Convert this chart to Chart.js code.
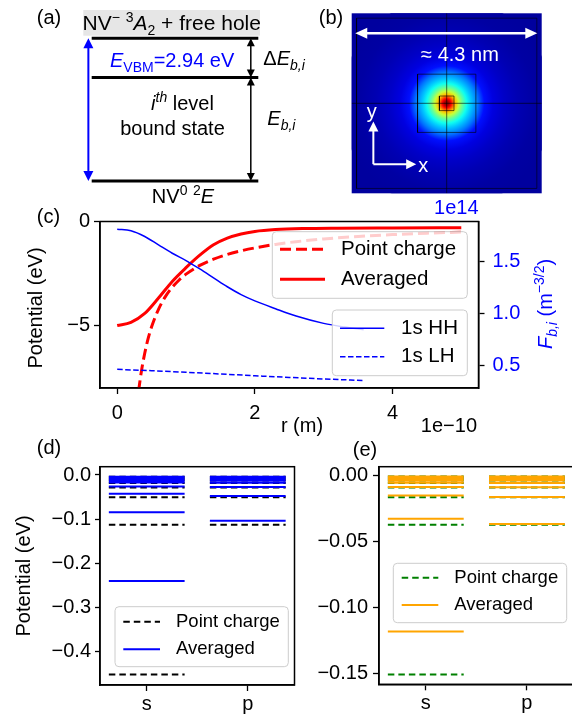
<!DOCTYPE html>
<html>
<head>
<meta charset="utf-8">
<title>NV bound hole states</title>
<script src="https://cdn.jsdelivr.net/npm/chart.js@4.4.1/dist/chart.umd.min.js"></script>
<style>
  html, body { margin: 0; padding: 0; width: 572px; height: 719px; overflow: hidden; background: #fff; }
  canvas { position: absolute; left: 0; top: 0; }
</style>
</head>
<body>
<canvas id="panelA" width="600" height="719"></canvas>
<canvas id="panelB" width="600" height="719"></canvas>
<canvas id="panelC" width="600" height="719"></canvas>
<canvas id="panelD" width="600" height="719"></canvas>
<canvas id="panelE" width="600" height="719"></canvas>
<script>
"use strict";

// ---------- data ----------

// (a) level scheme, eV above NV0 2E (middle level is schematic)
const levelY = [0, 2.13, 2.94];

// (b) radial profile of the 1s envelope, r in nm, normalised density
const blobR = [0, 0.05, 0.1, 0.15, 0.2, 0.27, 0.35, 0.45, 0.55, 0.7, 0.85, 1.05, 1.3, 1.6, 2.0, 2.4];
const blobV = [1.0, 0.96, 0.88, 0.78, 0.68, 0.57, 0.48, 0.39, 0.32, 0.24, 0.14, 0.095, 0.07, 0.05, 0.035, 0.03];
const boxHalf = [0.66, 0.165];   // guide squares, nm
const frameHalf = [2.04, 1.93];
const barY = 1.59, barX = [-2.07, 2.05];
const glyph = { x0: -1.66, y0: -1.38, len: 0.97 };

// (c) potential (eV) and envelope (1e14 m^-3/2) vs r (1e-10 m)
const rPc = [0.31, 0.35, 0.4, 0.45, 0.5, 0.6, 0.7, 0.8, 0.9, 1.0, 1.2, 1.4, 1.6, 1.8, 2.0, 2.3, 2.6, 3.0, 3.5, 4.0, 4.5, 5.0];
const vPc = [-8.16, -7.23, -6.33, -5.62, -5.06, -4.22, -3.61, -3.16, -2.81, -2.53, -2.11, -1.81, -1.58, -1.41, -1.27, -1.10, -0.97, -0.84, -0.72, -0.63, -0.56, -0.51];
const rAvg = [0, 0.2, 0.4, 0.6, 0.8, 1.0, 1.2, 1.4, 1.6, 1.8, 2.0, 2.3, 2.7, 3.2, 4.0, 5.0];
const vAvg = [-5.00, -4.85, -4.42, -3.68, -2.88, -2.22, -1.62, -1.12, -0.80, -0.60, -0.48, -0.39, -0.34, -0.32, -0.31, -0.30];
const rHH = [0, 0.2, 0.4, 0.6, 0.8, 1.0, 1.2, 1.4, 1.6, 1.8, 2.0, 2.3, 2.6, 3.0, 3.3, 3.58];
const fHH = [1.805, 1.79, 1.735, 1.655, 1.575, 1.505, 1.425, 1.34, 1.255, 1.18, 1.12, 1.045, 0.975, 0.905, 0.87, 0.845];
const rLH = [0, 0.5, 1.0, 1.5, 2.0, 2.5, 3.0, 3.58];
const fLH = [0.466, 0.453, 0.438, 0.422, 0.405, 0.389, 0.374, 0.360];
const potLabels = ['Point charge', 'Averaged'];
const wfLabels = ['1s HH', '1s LH'];
const ticksR = [0, 2, 4];
const ticksPot = [-5, 0];
const ticksF = [0.5, 1.0, 1.5];

// (d) HH bound levels (eV), n = 1..11 for s, n = 2..11 for p
const orbitals = ['s', 'p'];
const dPcS = [-0.452, -0.113, -0.0502, -0.0283, -0.0181, -0.0126, -0.0092, -0.0071, -0.0056, -0.0045, -0.0037];
const dAvgS = [-0.240, -0.0846, -0.0425, -0.0258, -0.0172, -0.0123, -0.0092, -0.0071, -0.0056, -0.0046, -0.0038];
const dPcP = [-0.113, -0.0502, -0.0283, -0.0181, -0.0126, -0.0092, -0.0071, -0.0056, -0.0045, -0.0037];
const dAvgP = [-0.1035, -0.0475, -0.0272, -0.0176, -0.0123, -0.0091, -0.0070, -0.0056, -0.0045, -0.0037];
// (e) LH bound levels (eV)
const ePcS = [-0.1508, -0.0377, -0.0168, -0.0094, -0.0060, -0.0042, -0.0031, -0.0024, -0.0019, -0.0015, -0.0012];
const eAvgS = [-0.1183, -0.0330, -0.0154, -0.0090, -0.0058, -0.0041, -0.0030, -0.0023, -0.0018, -0.0015, -0.0012];
const ePcP = [-0.0377, -0.0168, -0.0094, -0.0060, -0.0042, -0.0031, -0.0024, -0.0019, -0.0015, -0.0012];
const eAvgP = [-0.0370, -0.0166, -0.0093, -0.0060, -0.0042, -0.0031, -0.0024, -0.0019, -0.0015, -0.0012];
const levelLabels = ['Point charge', 'Averaged'];
const ticksCat = [0, 1];
const ticksD = [0, -0.1, -0.2, -0.3, -0.4];
const ticksE = [0, -0.05, -0.1, -0.15];

// ---------- helpers ----------

const W = 600, H = 719;
const FONT = "'Liberation Sans', Arial, Helvetica, sans-serif";
const BLUE = '#0000ff';

function fnt(size, italic) {
  return (italic ? 'italic ' : '') + size + 'px ' + FONT;
}

// pieces: [text, size, italic, rise]
const N = (s, size) => [s, size || 20, false, 0];
const It = (s, size) => [s, size || 20, true, 0];
const Sub = (s, it) => [s, 14, !!it, -5];
const Sup = (s, it) => [s, 14, !!it, 8];

// y is the visual middle of the 20px text
function rich(ctx, parts, x, y, align, color) {
  ctx.save();
  ctx.textBaseline = 'alphabetic';
  ctx.textAlign = 'left';
  ctx.fillStyle = color || '#000';
  let w = 0;
  parts.forEach(p => { ctx.font = fnt(p[1], p[2]); w += ctx.measureText(p[0]).width; });
  let cx = align === 'center' ? x - w / 2 : (align === 'right' ? x - w : x);
  const base = y + 7;
  parts.forEach(p => {
    ctx.font = fnt(p[1], p[2]);
    ctx.fillText(p[0], cx, base - p[3]);
    cx += ctx.measureText(p[0]).width;
  });
  ctx.restore();
}

function richRot(ctx, parts, x, y, color) {
  ctx.save();
  ctx.translate(x, y);
  ctx.rotate(-Math.PI / 2);
  rich(ctx, parts, 0, 0, 'center', color);
  ctx.restore();
}

function head(ctx, tx, ty, ang, hl, hw) {
  const c = Math.cos(ang), s = Math.sin(ang);
  const bx = tx - hl * c, by = ty - hl * s;
  ctx.beginPath();
  ctx.moveTo(tx, ty);
  ctx.lineTo(bx - hw / 2 * s, by + hw / 2 * c);
  ctx.lineTo(bx + hw / 2 * s, by - hw / 2 * c);
  ctx.closePath();
  ctx.fill();
}

// arrow from (x1,y1) to (x2,y2); both = heads at both ends
function arrow(ctx, x1, y1, x2, y2, hl, hw, color, lw, both) {
  const ang = Math.atan2(y2 - y1, x2 - x1);
  const c = Math.cos(ang), s = Math.sin(ang);
  ctx.save();
  ctx.strokeStyle = color;
  ctx.fillStyle = color;
  ctx.lineWidth = lw;
  ctx.beginPath();
  ctx.moveTo(both ? x1 + hl * 0.8 * c : x1, both ? y1 + hl * 0.8 * s : y1);
  ctx.lineTo(x2 - hl * 0.8 * c, y2 - hl * 0.8 * s);
  ctx.stroke();
  head(ctx, x2, y2, ang, hl, hw);
  if (both) head(ctx, x1, y1, ang + Math.PI, hl, hw);
  ctx.restore();
}

function roundRect(ctx, x, y, w, h, r) {
  ctx.beginPath();
  ctx.moveTo(x + r, y);
  ctx.lineTo(x + w - r, y);
  ctx.arcTo(x + w, y, x + w, y + r, r);
  ctx.lineTo(x + w, y + h - r);
  ctx.arcTo(x + w, y + h, x + w - r, y + h, r);
  ctx.lineTo(x + r, y + h);
  ctx.arcTo(x, y + h, x, y + h - r, r);
  ctx.lineTo(x, y + r);
  ctx.arcTo(x, y, x + r, y, r);
  ctx.closePath();
}

// box: [x1, y1, x2, y2]; items: [dataset, label, y]
function legend(ctx, box, items, size, hx, tx) {
  ctx.save();
  roundRect(ctx, box[0], box[1], box[2] - box[0], box[3] - box[1], 4);
  ctx.fillStyle = 'rgba(255,255,255,0.8)';
  ctx.fill();
  ctx.strokeStyle = '#cccccc';
  ctx.lineWidth = 1;
  ctx.stroke();
  items.forEach(([ds, label, y]) => {
    ctx.beginPath();
    ctx.setLineDash(ds.borderDash || []);
    ctx.strokeStyle = ds.borderColor;
    ctx.lineWidth = ds.borderWidth;
    ctx.moveTo(hx[0], y);
    ctx.lineTo(hx[1], y);
    ctx.stroke();
    ctx.setLineDash([]);
    ctx.fillStyle = '#000';
    ctx.font = fnt(size);
    ctx.textBaseline = 'middle';
    ctx.textAlign = 'left';
    ctx.fillText(label, tx, y);
  });
  ctx.restore();
}

function jet(v) {
  const cl = (t) => Math.max(0, Math.min(1, t));
  const r = cl(Math.min(4 * v - 1.5, -4 * v + 4.5));
  const g = cl(Math.min(4 * v - 0.5, -4 * v + 3.5));
  const b = cl(Math.min(4 * v + 0.5, -4 * v + 2.5));
  return 'rgb(' + Math.round(r * 255) + ',' + Math.round(g * 255) + ',' + Math.round(b * 255) + ')';
}

// pin the plot area to a pixel box on the full-size canvas;
// boxes = room (px) taken by the visible axis on each side
function base(l, t, r, b, boxes) {
  boxes = boxes || {};
  return {
    responsive: false,
    animation: false,
    devicePixelRatio: 1,
    events: [],
    layout: {
      padding: {
        left: l - (boxes.left || 0),
        top: t,
        right: W - r - (boxes.right || 0),
        bottom: H - b - (boxes.bottom || 0)
      }
    },
    plugins: { legend: { display: false }, tooltip: { enabled: false } }
  };
}

function axis(pos, size, min, max, ticks, fmt, color, tl, pad) {
  const vertical = pos === 'left' || pos === 'right';
  return {
    type: 'linear',
    position: pos,
    min: min,
    max: max,
    afterFit: (s) => { if (vertical) s.width = size; else s.height = size; },
    afterBuildTicks: (s) => { s.ticks = ticks.map(v => ({ value: v })); },
    ticks: {
      color: color,
      font: { family: FONT, size: 20 },
      padding: pad,
      maxRotation: 0,
      autoSkip: false,
      callback: fmt
    },
    grid: { display: true, drawOnChartArea: false, drawTicks: true, tickLength: tl, tickWidth: 1.3, tickColor: '#000' },
    border: { display: true, color: '#000', width: 1.5 }
  };
}

const minus = (v, d) => (v < 0 ? '\u2212' : '') + (d === undefined ? String(Math.abs(v)) : Math.abs(v).toFixed(d));

function series(xs, ys, yAxisID, color, width, dash) {
  return {
    data: xs.map((x, i) => ({ x: x, y: ys[i] })),
    yAxisID: yAxisID,
    showLine: true,
    borderColor: color,
    borderWidth: width,
    borderDash: dash,
    pointRadius: 0,
    cubicInterpolationMode: 'monotone',
    clip: 0
  };
}

// one short horizontal segment per level, centred on the orbital category
function levelSegs(cat, values) {
  const out = [];
  values.forEach(v => {
    out.push({ x: cat - 0.375, y: v }, { x: cat + 0.375, y: v }, { x: cat, y: null });
  });
  return out;
}

function levels(sVals, pVals, color, dash) {
  return {
    data: levelSegs(0, sVals).concat(levelSegs(1, pVals)),
    showLine: true,
    borderColor: color,
    borderWidth: 2,
    borderDash: dash,
    borderCapStyle: 'butt',
    pointRadius: 0,
    tension: 0,
    clip: 0
  };
}

const frame = {
  id: 'frame',
  afterDatasetsDraw(chart) {
    const a = chart.chartArea, ctx = chart.ctx;
    ctx.save();
    ctx.strokeStyle = '#000';
    ctx.lineWidth = 1.5;
    ctx.strokeRect(a.left, a.top, a.right - a.left, a.bottom - a.top);
    ctx.restore();
  }
};

// ---------- (a) energy level scheme ----------

new Chart(document.getElementById('panelA'), {
  type: 'scatter',
  data: {
    datasets: [{
      data: levelY.flatMap(y => [{ x: 0, y: y }, { x: 1, y: y }, { x: 1, y: null }]),
      showLine: true,
      borderColor: '#000',
      borderWidth: 3,
      borderCapStyle: 'butt',
      pointRadius: 0,
      clip: false
    }]
  },
  options: Object.assign(base(91.7, 38.3, 258.3, 181), {
    scales: {
      x: { type: 'linear', display: false, min: 0, max: 1 },
      y: { type: 'linear', display: false, min: 0, max: levelY[2] }
    }
  }),
  plugins: [{
    id: 'scheme',
    beforeDatasetsDraw(chart) {
      const ctx = chart.ctx;
      ctx.save();
      ctx.fillStyle = '#e6e6e6';
      ctx.fillRect(83.3, 10, 176.7, 25.7);
      ctx.restore();
    },
    afterDraw(chart) {
      const ctx = chart.ctx, sx = chart.scales.x, sy = chart.scales.y;
      const yb = sy.getPixelForValue(levelY[0]);
      const ym = sy.getPixelForValue(levelY[1]);
      const yt = sy.getPixelForValue(levelY[2]);
      const xb = sx.getPixelForValue(-0.02);
      const xk = sx.getPixelForValue(0.955);
      arrow(ctx, xb, yt, xb, yb, 10, 10, BLUE, 2, true);
      arrow(ctx, xk, yt, xk, ym, 8, 8, '#000', 1.5, true);
      arrow(ctx, xk, ym, xk, yb, 8, 8, '#000', 1.5, true);

      rich(ctx, [N('(a)')], 49, 17, 'center');
      rich(ctx, [N('NV', 21), Sup('\u2212'), N(' ', 21), Sup('3'), It('A', 21), Sub('2'), N(' + free hole', 21)], 171.7, 22.5, 'center');
      rich(ctx, [It('E'), Sub('VBM'), N('=2.94 eV')], 110, 60, 'left', BLUE);
      rich(ctx, [It('i'), Sup('th', true), N(' level')], 182.5, 103.3, 'center');
      rich(ctx, [N('bound state')], 172.5, 127.7, 'center');
      rich(ctx, [N('NV'), Sup('0'), N(' '), Sup('2'), It('E')], 183, 196, 'center');
      rich(ctx, [N('\u0394'), It('E'), Sub('b,i', true)], 263.3, 58.3, 'left');
      rich(ctx, [It('E'), Sub('b,i', true)], 267.3, 118, 'left');
    }
  }]
});

// ---------- (b) envelope density map ----------

function square(h) {
  return [{ x: -h, y: -h }, { x: h, y: -h }, { x: h, y: h }, { x: -h, y: h }, { x: -h, y: -h }, { x: 0, y: null }];
}
const guideLines = boxHalf.flatMap(square).concat([
  { x: -2.15, y: 0 }, { x: 2.15, y: 0 }, { x: 0, y: null },
  { x: 0, y: -2.04 }, { x: 0, y: 2.04 }
]);
const frameLines = [
  { x: -frameHalf[0], y: -frameHalf[1] }, { x: frameHalf[0], y: -frameHalf[1] },
  { x: frameHalf[0], y: frameHalf[1] }, { x: -frameHalf[0], y: frameHalf[1] },
  { x: -frameHalf[0], y: -frameHalf[1] }
];

function blobGradient(c) {
  const chart = c.chart;
  if (!chart.chartArea) return jet(blobV[0]);
  const sx = chart.scales.x, sy = chart.scales.y;
  const cx = sx.getPixelForValue(0), cy = sy.getPixelForValue(0);
  const R = sx.getPixelForValue(blobR[blobR.length - 1]) - cx;
  const g = chart.ctx.createRadialGradient(cx, cy, 0, cx, cy, R);
  blobR.forEach((r, i) => g.addColorStop(r / blobR[blobR.length - 1], jet(blobV[i])));
  return g;
}

new Chart(document.getElementById('panelB'), {
  type: 'scatter',
  data: {
    datasets: [
      { data: frameLines, showLine: true, borderColor: 'rgba(0,0,0,0.55)', borderWidth: 1, pointRadius: 0, clip: 0 },
      { data: guideLines, showLine: true, borderColor: 'rgba(0,0,0,0.6)', borderWidth: 1, pointRadius: 0, clip: 0 },
      {
        data: [{ x: 0, y: 0 }],
        pointRadius: (c) => c.chart.chartArea ? c.chart.scales.x.getPixelForValue(blobR[blobR.length - 1]) - c.chart.scales.x.getPixelForValue(0) : 0,
        backgroundColor: blobGradient,
        borderWidth: 0,
        pointBorderWidth: 0,
        clip: 0
      }
    ]
  },
  options: Object.assign(base(351.7, 13.3, 541.7, 193.3), {
    scales: {
      x: { type: 'linear', display: false, min: -2.15, max: 2.15 },
      y: { type: 'linear', display: false, min: -2.04, max: 2.04 }
    }
  }),
  plugins: [{
    id: 'densityMap',
    beforeDatasetsDraw(chart) {
      const a = chart.chartArea, ctx = chart.ctx;
      ctx.save();
      ctx.fillStyle = jet(blobV[blobV.length - 1]);
      ctx.fillRect(a.left, a.top, a.right - a.left, a.bottom - a.top);
      ctx.restore();
    },
    afterDraw(chart) {
      const ctx = chart.ctx, sx = chart.scales.x, sy = chart.scales.y;
      const px = (v) => sx.getPixelForValue(v), py = (v) => sy.getPixelForValue(v);
      arrow(ctx, px(barX[0]), py(barY), px(barX[1]), py(barY), 12, 11, '#fff', 2.5, true);
      rich(ctx, [N('\u2248 4.3 nm')], px(0.30), py(1.12), 'center', '#fff');
      const ox = px(glyph.x0), oy = py(glyph.y0);
      const tx = px(glyph.x0 + glyph.len), ty = py(glyph.y0 + glyph.len);
      arrow(ctx, ox, oy, ox, ty, 10, 10, '#fff', 2, false);
      arrow(ctx, ox, oy, tx, oy, 10, 10, '#fff', 2, false);
      rich(ctx, [N('y')], ox - 1.5, ty - 10, 'center', '#fff');
      rich(ctx, [N('x')], tx + 7, oy + 1, 'center', '#fff');
      rich(ctx, [N('(b)')], 331, 17, 'center');
    }
  }]
});

// ---------- (c) potential and envelope vs r ----------

const dsHH = series(rHH, fHH, 'y1', BLUE, 1.5, []);
const dsLH = series(rLH, fLH, 'y1', BLUE, 1.5, [5.5, 2.5]);
const dsAvg = series(rAvg, vAvg, 'y', '#ff0000', 3, []);
const dsPc = series(rPc, vPc, 'y', '#ff0000', 3, [11, 5]);

new Chart(document.getElementById('panelC'), {
  type: 'scatter',
  data: { datasets: [dsHH, dsLH, dsAvg, dsPc] },
  options: Object.assign(base(100, 221.5, 478.5, 388, { left: 70, right: 70, bottom: 45 }), {
    scales: {
      x: axis('bottom', 45, -0.25, 5.25, ticksR, (v) => String(v), '#000', 6, 7),
      y: axis('left', 70, -8, 0, ticksPot, (v) => minus(v), '#000', 6, 4),
      y1: axis('right', 70, 0.288, 1.878, ticksF, (v) => v.toFixed(1), BLUE, 6, 8)
    }
  }),
  plugins: [frame, {
    id: 'potText',
    afterDatasetsDraw(chart) {
      const ctx = chart.ctx;
      legend(ctx, [272.3, 231.7, 467.3, 298.3],
        [[dsPc, potLabels[0], 249.3], [dsAvg, potLabels[1], 279.3]], 20.5, [280, 325], 341);
      legend(ctx, [332.3, 310, 467.3, 375.7],
        [[dsHH, wfLabels[0], 328.3], [dsLH, wfLabels[1], 356.7]], 20.5, [340, 384.3], 401);
    },
    afterDraw(chart) {
      const ctx = chart.ctx;
      rich(ctx, [N('(c)')], 48.5, 216, 'center');
      rich(ctx, [N('r (m)')], 302, 425, 'center');
      rich(ctx, [N('1e\u221210')], 477, 425, 'right');
      rich(ctx, [N('1e14')], 478.5, 206.7, 'right', BLUE);
      richRot(ctx, [N('Potential (eV)')], 35, 308);
      richRot(ctx, [It('F'), Sub('b,i', true), N(' (m'), Sup('\u22123/2'), N(')')], 545, 304, BLUE);
    }
  }]
});

// ---------- (d) HH levels ----------

const dsDAvg = levels(dAvgS, dAvgP, BLUE, []);
const dsDPc = levels(dPcS, dPcP, '#000', [6.5, 4]);

new Chart(document.getElementById('panelD'), {
  type: 'scatter',
  data: { datasets: [dsDAvg, dsDPc] },
  options: Object.assign(base(100, 466.7, 294.5, 685, { left: 70, bottom: 32 }), {
    scales: {
      x: axis('bottom', 32, -0.4625, 1.4625, ticksCat, (v) => orbitals[v], '#000', 6, 1),
      y: axis('left', 70, -0.476, 0.0188, ticksD, (v) => minus(v, 1), '#000', 5, 4)
    }
  }),
  plugins: [frame, {
    id: 'hhText',
    afterDatasetsDraw(chart) {
      legend(chart.ctx, [115, 606.7, 288.3, 666.7],
        [[dsDPc, levelLabels[0], 621.7], [dsDAvg, levelLabels[1], 649.3]], 18.5, [123.3, 160], 176);
    },
    afterDraw(chart) {
      const ctx = chart.ctx;
      rich(ctx, [N('(d)')], 49, 447, 'center');
      richRot(ctx, [N('Potential (eV)')], 22.5, 576);
    }
  }]
});

// ---------- (e) LH levels ----------

const dsEAvg = levels(eAvgS, eAvgP, '#ffa500', []);
const dsEPc = levels(ePcS, ePcP, '#008000', [6.5, 4]);

new Chart(document.getElementById('panelE'), {
  type: 'scatter',
  data: { datasets: [dsEAvg, dsEPc] },
  options: Object.assign(base(379, 466.7, 573.7, 684.3, { left: 70, bottom: 32 }), {
    scales: {
      x: axis('bottom', 32, -0.4625, 1.4625, ticksCat, (v) => orbitals[v], '#000', 6, 1),
      y: axis('left', 70, -0.1583, 0.0063, ticksE, (v) => minus(v, 2), '#000', 6, 5)
    }
  }),
  plugins: [frame, {
    id: 'lhText',
    afterDatasetsDraw(chart) {
      legend(chart.ctx, [393.3, 563.3, 566.7, 622.7],
        [[dsEPc, levelLabels[0], 577.7], [dsEAvg, levelLabels[1], 605]], 18.5, [401.7, 438.3], 454.3);
    },
    afterDraw(chart) {
      rich(chart.ctx, [N('(e)')], 365, 449, 'center');
    }
  }]
});
</script>
</body>
</html>
